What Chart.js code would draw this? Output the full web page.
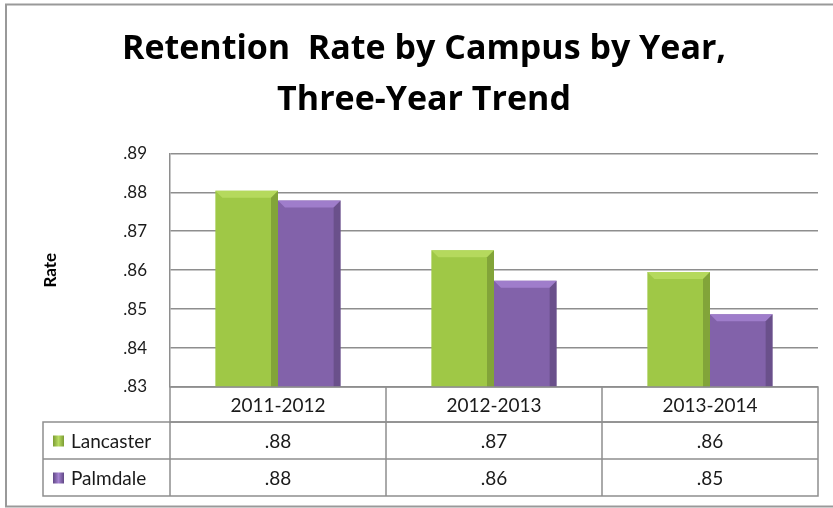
<!DOCTYPE html>
<html lang="en">
<head>
    <meta charset="UTF-8">
    <title>Retention Rate by Campus</title>
    <script src="https://cdn.jsdelivr.net/npm/chart.js@4.4.1/dist/chart.umd.min.js"></script>
    <style>
        body { margin: 0; background: #fff; }
        canvas { display: block; }
    </style>
</head>
<body>

<canvas id="chart" width="833" height="508"></canvas>

<script>
    const years = ['2011-2012', '2012-2013', '2013-2014'];
    const campuses = ['Lancaster', 'Palmdale'];
    const lancaster = [0.8804, 0.8651, 0.8595];
    const palmdale = [0.8779, 0.8573, 0.8487];
    const yTicks = [0.83, 0.84, 0.85, 0.86, 0.87, 0.88, 0.89];

    const fontName = 'Lato, "DejaVu Sans", sans-serif';
    const titleFont = '"Open Sans", Lato, sans-serif';
    const lineGray = '#8e8e8e';

    // colours for the bevel look: light, mid, dark
    const shades = [
        ['#b8dc62', '#9fc846', '#7c9c33'],
        ['#a583d1', '#8262aa', '#604785']
    ];

    function fmt(v) {
        return v.toFixed(2).replace(/^0/, '');
    }

    function barFill(ctx, k) {
        const el = ctx.element;
        if (!el || !el.width) return shades[k][1];
        const c = ctx.chart.ctx;
        const g = c.createLinearGradient(el.x - el.width / 2, 0, el.x + el.width / 2, 0);
        g.addColorStop(0, shades[k][2]);
        g.addColorStop(0.1, shades[k][1]);
        g.addColorStop(0.45, shades[k][0]);
        g.addColorStop(0.9, shades[k][1]);
        g.addColorStop(1, shades[k][2]);
        return g;
    }

    // bevel on bar tops
    const bevelPlugin = {
        id: 'bevel',
        afterDatasetsDraw(chart) {
            const c = chart.ctx;
            const area = chart.chartArea;
            chart.data.datasets.forEach((ds, k) => {
                chart.getDatasetMeta(k).data.forEach(bar => {
                    const l = bar.x - bar.width / 2, r = bar.x + bar.width / 2;
                    const t = bar.y, b = Math.min(bar.base, area.bottom), d = 7;
                    c.save();
                    c.fillStyle = shades[k][0];
                    c.globalAlpha = 0.85;
                    c.beginPath();
                    c.moveTo(l, t); c.lineTo(r, t); c.lineTo(r - d, t + d); c.lineTo(l + d, t + d);
                    c.closePath(); c.fill();
                    c.globalAlpha = 0.18;
                    c.fillStyle = '#000';
                    c.beginPath();
                    c.moveTo(r, t); c.lineTo(r, b); c.lineTo(r - d, b); c.lineTo(r - d, t + d);
                    c.closePath(); c.fill();
                    c.restore();
                });
            });
        }
    };

    // data table under the plot + outer frame
    const tablePlugin = {
        id: 'table',
        afterDraw(chart) {
            const c = chart.ctx;
            const x = chart.scales.x;
            const area = chart.chartArea;
            const half = (x.getPixelForValue(1) - x.getPixelForValue(0)) / 2;
            const left = x.getPixelForValue(0) - half;
            const right = x.getPixelForValue(years.length - 1) + half;
            const top = area.bottom;
            const hHead = 35, hRow = 37;
            const legLeft = 43;
            const rows = [lancaster, palmdale];

            c.save();
            c.strokeStyle = lineGray;
            c.lineWidth = 1.5;
            c.strokeRect(left, top, right - left, hHead);
            for (let i = 1; i < years.length; i++) {
                const bx = x.getPixelForValue(i) - half;
                c.beginPath(); c.moveTo(bx, top); c.lineTo(bx, top + hHead + hRow * 2); c.stroke();
            }
            c.strokeRect(legLeft, top + hHead, right - legLeft, hRow * 2);
            c.beginPath();
            c.moveTo(legLeft, top + hHead + hRow); c.lineTo(right, top + hHead + hRow);
            c.moveTo(left, top + hHead); c.lineTo(left, top + hHead + hRow * 2);
            c.stroke();

            c.fillStyle = '#1a1a1a';
            c.font = '19px ' + fontName;
            c.textAlign = 'center';
            c.textBaseline = 'middle';
            years.forEach((y, i) => c.fillText(y, x.getPixelForValue(i), top + hHead / 2 + 1));
            rows.forEach((vals, r) => {
                const cy = top + hHead + hRow * r + hRow / 2 + 1;
                vals.forEach((v, i) => c.fillText(fmt(v), x.getPixelForValue(i), cy));
                // legend marker
                const g = c.createLinearGradient(53, 0, 64, 0);
                g.addColorStop(0, shades[r][2]);
                g.addColorStop(0.5, shades[r][0]);
                g.addColorStop(1, shades[r][2]);
                c.fillStyle = g;
                c.fillRect(53, cy - 6, 11, 11);
                c.fillStyle = '#1a1a1a';
                c.textAlign = 'left';
                c.fillText(campuses[r], 71, cy);
                c.textAlign = 'center';
            });

            // outer frame (cut off on the right)
            c.strokeStyle = '#999';
            c.lineWidth = 2;
            c.beginPath();
            c.moveTo(chart.width + 5, 4.5);
            c.lineTo(6, 4.5);
            c.lineTo(6, 506.5);
            c.lineTo(chart.width + 5, 506.5);
            c.stroke();
            c.restore();
        }
    };

    const ctx = document.getElementById('chart').getContext('2d');
    const chart = new Chart(ctx, {
        type: 'bar',
        data: {
            labels: years,
            datasets: [{
                label: campuses[0],
                data: lancaster,
                backgroundColor: c => barFill(c, 0)
            }, {
                label: campuses[1],
                data: palmdale,
                backgroundColor: c => barFill(c, 1)
            }]
        },
        options: {
            responsive: false,
            animation: false,
            layout: { padding: { left: 30, right: 15, bottom: 113 } },
            datasets: {
                bar: { categoryPercentage: 0.58, barPercentage: 1.0 }
            },
            plugins: {
                legend: { display: false },
                tooltip: { enabled: false },
                title: {
                    display: true,
                    text: ['Retention  Rate by Campus by Year,', 'Three-Year Trend'],
                    color: '#000',
                    font: { family: titleFont, size: 34, weight: 'bold', lineHeight: 1.49 },
                    padding: { top: 24, bottom: 28 }
                }
            },
            scales: {
                x: {
                    grid: { display: false },
                    border: { display: false },
                    ticks: { display: false }
                },
                y: {
                    min: 0.83,
                    max: 0.89,
                    afterBuildTicks: axis => { axis.ticks = yTicks.map(v => ({ value: v })); },
                    afterFit: axis => { axis.width = 140; },
                    grid: { color: lineGray, lineWidth: 1.5, drawTicks: false },
                    border: { display: true, color: lineGray, width: 1.5 },
                    ticks: {
                        padding: 23,
                        color: '#1a1a1a',
                        font: { family: fontName, size: 17 },
                        callback: v => fmt(v)
                    },
                    title: {
                        display: true,
                        text: 'Rate',
                        color: '#000',
                        font: { family: fontName, size: 17, weight: 'bold' },
                        padding: { top: 10, bottom: 0 }
                    }
                }
            }
        },
        plugins: [bevelPlugin, tablePlugin]
    });
</script>
</body>
</html>
